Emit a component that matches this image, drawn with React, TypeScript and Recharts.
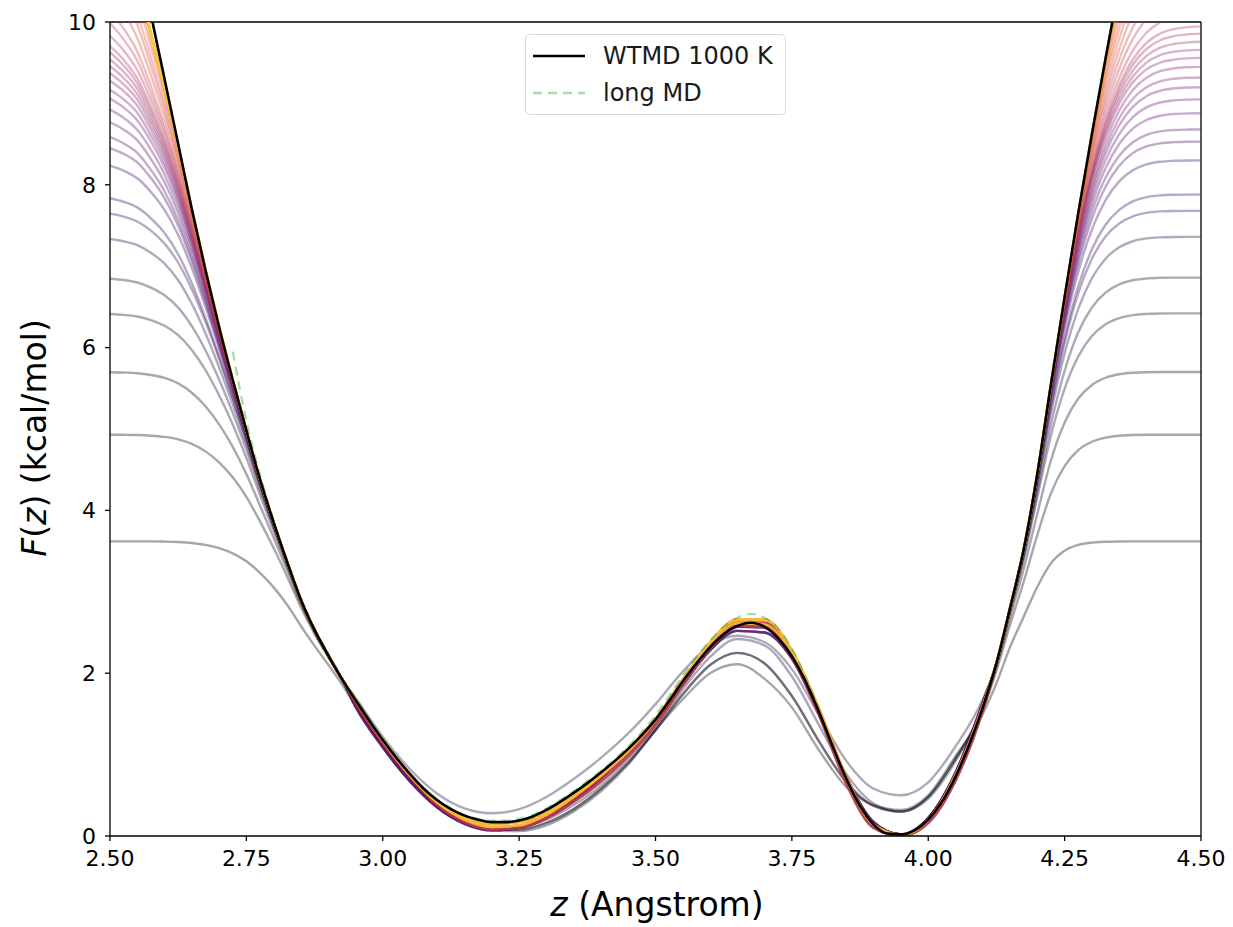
import React from 'react';
import { LineChart, Line, XAxis, YAxis, ReferenceLine, Label } from 'recharts';

// sample positions along z (Angstrom), uniform 0.025 spacing
const zGrid = [
  2.5, 2.525, 2.55, 2.575, 2.6, 2.625, 2.65, 2.675, 2.7, 2.725,
  2.75, 2.775, 2.8, 2.825, 2.85, 2.875, 2.9, 2.925, 2.95, 2.975,
  3.0, 3.025, 3.05, 3.075, 3.1, 3.125, 3.15, 3.175, 3.2, 3.225,
  3.25, 3.275, 3.3, 3.325, 3.35, 3.375, 3.4, 3.425, 3.45, 3.475,
  3.5, 3.525, 3.55, 3.575, 3.6, 3.625, 3.65, 3.675, 3.7, 3.725,
  3.75, 3.775, 3.8, 3.825, 3.85, 3.875, 3.9, 3.925, 3.95, 3.975,
  4.0, 4.025, 4.05, 4.075, 4.1, 4.125, 4.15, 4.175, 4.2, 4.225,
  4.25, 4.275, 4.3, 4.325, 4.35, 4.375, 4.4, 4.425, 4.45, 4.475, 4.5,
];
const Z_STEP = 0.025;

// converged WTMD free energy (kcal/mol) on zGrid
const wtmdF = [
  12.6, 11.8, 11.0, 10.1, 9.3, 8.5, 7.7, 6.95, 6.25, 5.6,
  4.98, 4.38, 3.85, 3.36, 2.9, 2.53, 2.22, 1.93, 1.67, 1.42,
  1.18, 0.96, 0.76, 0.58, 0.44, 0.33, 0.25, 0.2, 0.17, 0.17,
  0.19, 0.24, 0.32, 0.42, 0.53, 0.65, 0.78, 0.92, 1.07, 1.24,
  1.43, 1.66, 1.9, 2.12, 2.32, 2.48, 2.58, 2.62, 2.57, 2.43,
  2.21, 1.9, 1.52, 1.1, 0.7, 0.37, 0.14, 0.03, 0.02, 0.07,
  0.2, 0.42, 0.73, 1.12, 1.58, 2.12, 2.8, 3.52, 4.45, 5.55,
  6.62, 7.65, 8.62, 9.55, 10.45, 11.35, 12.25, 13.15, 14.0, 14.85, 15.7,
];

// long unbiased MD, only sampled between z = 2.725 and 4.25
const longMdZ = zGrid.slice(9, 71);
const longMdF = [
  5.95, 5.1, 4.44, 3.88, 3.38, 2.92, 2.55, 2.24, 1.95, 1.69,
  1.44, 1.19, 0.97, 0.77, 0.59, 0.45, 0.34, 0.26, 0.21, 0.19,
  0.19, 0.21, 0.26, 0.34, 0.44, 0.55, 0.67, 0.8, 0.94, 1.1,
  1.28, 1.48, 1.72, 1.97, 2.2, 2.4, 2.57, 2.68, 2.73, 2.68,
  2.55, 2.3, 1.95, 1.54, 1.1, 0.69, 0.36, 0.13, 0.03, 0.02,
  0.07, 0.21, 0.43, 0.74, 1.13, 1.59, 2.13, 2.8, 3.5, 4.42,
  5.5, 6.55,
];

// intermediate snapshots: central region (wells + barrier) on coarser knots
const knotZ = [
  2.95, 3.0, 3.05, 3.1, 3.15, 3.2, 3.25, 3.3, 3.35, 3.4, 3.45, 3.5,
  3.55, 3.6, 3.65, 3.7, 3.75, 3.8, 3.85, 3.9, 3.95, 4.0, 4.05, 4.1,
];
const firstGray = [1.6, 1.1, 0.68, 0.36, 0.16, 0.07, 0.06, 0.13, 0.3, 0.55, 0.88, 1.3, 1.68, 2.0, 2.11, 1.93, 1.58, 1.05, 0.6, 0.38, 0.32, 0.5, 0.98, 1.5];
const earlyGray = [1.62, 1.12, 0.7, 0.38, 0.18, 0.08, 0.08, 0.16, 0.33, 0.58, 0.9, 1.3, 1.74, 2.1, 2.25, 2.12, 1.72, 1.16, 0.66, 0.37, 0.3, 0.48, 0.95, 1.56];
const lateGray = [1.64, 1.14, 0.72, 0.4, 0.2, 0.1, 0.11, 0.2, 0.38, 0.62, 0.94, 1.32, 1.8, 2.2, 2.42, 2.34, 1.96, 1.36, 0.76, 0.4, 0.3, 0.46, 0.92, 1.58];
const lavender = [1.7, 1.22, 0.82, 0.52, 0.34, 0.28, 0.33, 0.48, 0.7, 0.96, 1.26, 1.62, 2.02, 2.34, 2.46, 2.38, 2.05, 1.48, 0.92, 0.58, 0.5, 0.66, 1.1, 1.68];
const purpleLow = [1.59, 1.09, 0.67, 0.35, 0.15, 0.07, 0.1, 0.22, 0.43, 0.71, 1.03, 1.4, 1.86, 2.28, 2.52, 2.5, 2.18, 1.5, 0.72, 0.17, 0.02, 0.22, 0.78, 1.64];
const purpleMid = [1.63, 1.12, 0.7, 0.37, 0.17, 0.09, 0.12, 0.25, 0.47, 0.74, 1.05, 1.42, 1.9, 2.32, 2.57, 2.56, 2.22, 1.54, 0.72, 0.15, 0.02, 0.22, 0.76, 1.62];
const magentaLow = [1.64, 1.14, 0.72, 0.38, 0.17, 0.08, 0.1, 0.22, 0.42, 0.67, 0.98, 1.36, 1.85, 2.3, 2.58, 2.57, 2.2, 1.48, 0.64, 0.1, 0.0, 0.16, 0.68, 1.54];
const magentaHigh = [1.66, 1.16, 0.74, 0.41, 0.19, 0.1, 0.12, 0.25, 0.46, 0.72, 1.02, 1.4, 1.9, 2.34, 2.62, 2.62, 2.24, 1.52, 0.68, 0.12, 0.01, 0.18, 0.72, 1.58];
const orangeLow = [1.68, 1.17, 0.74, 0.41, 0.2, 0.11, 0.13, 0.26, 0.48, 0.74, 1.04, 1.42, 1.92, 2.38, 2.66, 2.66, 2.28, 1.56, 0.72, 0.14, 0.01, 0.2, 0.75, 1.6];
const orangeMid = [1.67, 1.18, 0.76, 0.43, 0.23, 0.15, 0.17, 0.29, 0.51, 0.77, 1.07, 1.44, 1.92, 2.34, 2.62, 2.6, 2.24, 1.54, 0.7, 0.14, 0.02, 0.2, 0.74, 1.59];
const centralShapes = [
  firstGray, earlyGray, lateGray, lavender, purpleLow,
  purpleMid, magentaLow, magentaHigh, orangeLow, orangeMid,
];

// saturation level of each snapshot (height of the flat shoulders), in time order
const plateaus = [
  3.62, 4.93, 5.7, 6.42, 6.86, 7.36, 7.68, 7.88, 8.3, 8.53,
  8.68, 8.88, 9.05, 9.2, 9.32, 9.45, 9.56, 9.66, 9.76, 9.86,
  9.95, 10.1, 10.3, 10.5, 10.8, 11.1, 11.4, 11.8, 12.2, 12.7,
  13.2, 13.8, 14.5, 15.2, 16.0, 17.0, 18.0, 19.0, 20.0, 22.0,
];
const snapshotShape = [
  0, 1, 1, 2, 3, 4, 5, 4, 5, 4,
  5, 4, 5, 4, 6, 7, 6, 7, 6, 7,
  6, 7, 6, 7, 6, 8, 9, 8, 9, 8,
  9, 8, 9, 8, 9, 8, 9, 8, 9, 8,
];

const xTicks = [2.5, 2.75, 3.0, 3.25, 3.5, 3.75, 4.0, 4.25, 4.5];
const yTicks = [0, 2, 4, 6, 8, 10];

const INFERNO = [
  '#000004', '#160b39', '#420a68', '#6a176e', '#932667', '#bc3754',
  '#dd513a', '#f37819', '#fca50a', '#f6d746', '#fcffa4',
];

function inferno(t: number) {
  const x = Math.max(0, Math.min(1, t)) * 10;
  const i = Math.min(9, Math.floor(x));
  const f = x - i;
  const a = INFERNO[i];
  const b = INFERNO[i + 1];
  const ch = (s: string, k: number) => parseInt(s.slice(1 + 2 * k, 3 + 2 * k), 16);
  const out = [0, 1, 2].map((k) => Math.round(ch(a, k) + (ch(b, k) - ch(a, k)) * f));
  return `rgb(${out.join(',')})`;
}

// rounding width (Angstrom) where a snapshot runs into its plateau;
// the left wall is shallower, so its shoulders are wider
const SHOULDER_LEFT = 0.085;
const SHOULDER_RIGHT = 0.065;

// gaussian average on zGrid; holdEnds repeats the end values past the range,
// otherwise the window is kept symmetric
function smoothAt(values: number[], j: number, sigma: number, holdEnds: boolean) {
  const n = zGrid.length;
  const reach = Math.ceil((3 * sigma) / Z_STEP);
  const r = holdEnds ? reach : Math.min(j, n - 1 - j, reach);
  let num = 0;
  let den = 0;
  for (let k = j - r; k <= j + r; k++) {
    const d = (k - j) * Z_STEP;
    const w = Math.exp(-(d * d) / (2 * sigma * sigma));
    num += w * values[Math.max(0, Math.min(n - 1, k))];
    den += w;
  }
  return num / den;
}

function snapshotCurve(plateau: number, central: number[]) {
  const lo = knotZ[0];
  const hi = knotZ[knotZ.length - 1];
  const capped = wtmdF.map((f) => Math.min(f, plateau));
  const below = wtmdF.map((f) => (f < plateau ? 1 : 0));

  const pts: { z: number; f: number }[] = [];
  zGrid.forEach((z, j) => {
    if (z > lo - 1e-6 && z < hi + 1e-6) return;
    const sigma = z < 3.5 ? SHOULDER_LEFT : SHOULDER_RIGHT;
    const inside = smoothAt(below, j, sigma, true);
    const bend = smoothAt(wtmdF, j, sigma, false) - wtmdF[j];
    const f = smoothAt(capped, j, sigma, true) - inside * bend;
    pts.push({ z, f: Math.min(plateau, f) });
  });
  knotZ.forEach((z, i) => pts.push({ z, f: central[i] }));
  return pts.sort((a, b) => a.z - b.z);
}

const snapshots = plateaus.map((p, i) => ({
  points: snapshotCurve(p, centralShapes[snapshotShape[i]]),
  color: inferno((i / (plateaus.length - 1)) * 0.92),
}));

const wtmdData = zGrid.map((z, i) => ({ z, f: wtmdF[i] }));
const longMdData = longMdZ.map((z, i) => ({ z, f: longMdF[i] }));

const FONT = 'DejaVu Sans';
const MD_GREEN = '#2ca02c';

const legendItems = [
  { label: 'WTMD 1000 K', stroke: '#000', opacity: 1, dash: undefined as string | undefined },
  { label: 'long MD', stroke: MD_GREEN, opacity: 0.4, dash: '9 6' },
];

const FreeEnergyLegend = () => (
  <div
    style={{
      position: 'absolute',
      left: 517,
      top: 26,
      width: 261,
      height: 81,
      boxSizing: 'border-box',
      border: '1px solid #d9d9d9',
      borderRadius: 5,
      background: 'rgba(255,255,255,0.85)',
      padding: '2px 0 0 7px',
      fontFamily: FONT,
      fontSize: 24,
      color: '#1a1a1a',
    }}
  >
    {legendItems.map((item) => (
      <div key={item.label} style={{ display: 'flex', alignItems: 'center', height: 37 }}>
        <svg width={52} height={10} style={{ flex: 'none' }}>
          <line
            x1={0}
            y1={5}
            x2={52}
            y2={5}
            stroke={item.stroke}
            strokeOpacity={item.opacity}
            strokeWidth={2.5}
            strokeDasharray={item.dash}
          />
        </svg>
        <span style={{ marginLeft: 18, whiteSpace: 'nowrap' }}>{item.label}</span>
      </div>
    ))}
  </div>
);

const tickStyle = { fill: '#000', fontSize: 22, fontFamily: FONT };

export default function App() {
  return (
    <div style={{ position: 'relative', width: 1225, height: 919, background: '#fff' }}>
      <LineChart width={1225} height={919} margin={{ top: 14, right: 32, left: 0, bottom: 0 }}>
        <XAxis
          type="number"
          dataKey="z"
          domain={[2.5, 4.5]}
          ticks={xTicks}
          allowDataOverflow
          tickFormatter={(v: number) => v.toFixed(2)}
          height={91}
          tickSize={5}
          tickMargin={9}
          tick={tickStyle}
          stroke="#000"
          axisLine={{ stroke: '#000', strokeWidth: 1.3 }}
          tickLine={{ stroke: '#000', strokeWidth: 1.3 }}
        >
          <Label
            content={() => (
              <text x={649} y={908} textAnchor="middle" fontFamily={FONT} fontSize={33} fill="#000">
                <tspan fontStyle="italic">z</tspan>
                <tspan> (Angstrom)</tspan>
              </text>
            )}
          />
        </XAxis>
        <YAxis
          type="number"
          domain={[0, 10]}
          ticks={yTicks}
          allowDataOverflow
          width={102}
          tickSize={5}
          tickMargin={9}
          tick={tickStyle}
          stroke="#000"
          axisLine={{ stroke: '#000', strokeWidth: 1.3 }}
          tickLine={{ stroke: '#000', strokeWidth: 1.3 }}
        >
          <Label
            content={() => (
              <text
                x={38}
                y={430}
                textAnchor="middle"
                transform="rotate(-90 38 430)"
                fontFamily={FONT}
                fontSize={33}
                fill="#000"
              >
                <tspan fontStyle="italic">F</tspan>
                <tspan>(</tspan>
                <tspan fontStyle="italic">z</tspan>
                <tspan>) (kcal/mol)</tspan>
              </text>
            )}
          />
        </YAxis>
        <ReferenceLine y={10} stroke="#000" strokeWidth={1.3} />
        <ReferenceLine x={4.5} stroke="#000" strokeWidth={1.3} />

        {snapshots.map((s, i) => (
          <Line
            key={`snapshot-${i}`}
            data={s.points}
            dataKey="f"
            type="monotone"
            stroke={s.color}
            strokeOpacity={0.35}
            strokeWidth={2.4}
            dot={false}
            activeDot={false}
            legendType="none"
            isAnimationActive={false}
          />
        ))}
        <Line
          data={longMdData}
          dataKey="f"
          type="monotone"
          stroke={MD_GREEN}
          strokeOpacity={0.4}
          strokeWidth={2.2}
          strokeDasharray="9 6"
          dot={false}
          activeDot={false}
          isAnimationActive={false}
        />
        <Line
          data={wtmdData}
          dataKey="f"
          type="monotone"
          stroke="#000"
          strokeWidth={2.6}
          dot={false}
          activeDot={false}
          isAnimationActive={false}
        />
      </LineChart>
      <FreeEnergyLegend />
    </div>
  );
}
